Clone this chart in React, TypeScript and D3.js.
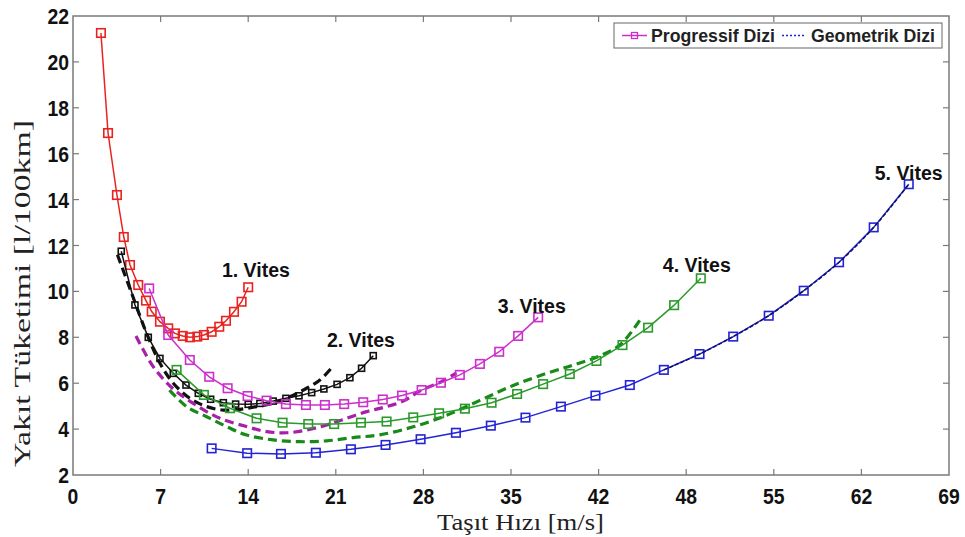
import React from "react";
import * as d3 from "d3";

// ---- data ----
const xTickLabels = ["0", "7", "14", "21", "28", "35", "42", "48", "55", "62", "69"];
const yTicks = [2, 4, 6, 8, 10, 12, 14, 16, 18, 20, 22];

const g1x = [2.2, 2.76, 3.46, 4.0, 4.49, 5.14, 5.75, 6.2, 6.85, 7.5, 8.03, 8.64, 9.21, 9.79, 10.31, 10.92, 11.52, 12.05, 12.68, 13.28, 13.8];
const g1y = [21.26, 16.9, 14.2, 12.37, 11.15, 10.28, 9.6, 9.12, 8.68, 8.39, 8.17, 8.06, 8.0, 8.03, 8.1, 8.24, 8.46, 8.72, 9.11, 9.55, 10.18];

const g2x = [3.8, 4.88, 5.93, 6.85, 7.9, 8.9, 9.87, 10.84, 11.84, 12.81, 13.8, 14.72, 15.77, 16.77, 17.8, 18.8, 19.76, 20.8, 21.81, 22.73, 23.65];
const g2y = [11.75, 9.41, 8.0, 7.08, 6.43, 5.92, 5.56, 5.3, 5.15, 5.09, 5.08, 5.12, 5.22, 5.34, 5.45, 5.59, 5.75, 5.95, 6.24, 6.65, 7.2];

const g3x = [6.0, 7.5, 9.2, 10.73, 12.18, 13.75, 15.25, 16.77, 18.35, 19.84, 21.36, 22.86, 24.4, 25.92, 27.46, 28.98, 30.47, 32.05, 33.57, 35.06, 36.64];
const g3y = [10.13, 8.1, 7.01, 6.28, 5.78, 5.44, 5.24, 5.09, 5.05, 5.05, 5.09, 5.17, 5.29, 5.46, 5.7, 6.02, 6.36, 6.84, 7.37, 8.06, 8.87];

const g4x = [8.16, 10.31, 12.36, 14.46, 16.51, 18.53, 20.57, 22.68, 24.7, 26.8, 28.84, 30.87, 32.97, 34.98, 37.03, 39.13, 41.23, 43.28, 45.3, 47.35, 49.45];
const g4y = [6.58, 5.49, 4.91, 4.47, 4.28, 4.22, 4.22, 4.28, 4.33, 4.51, 4.69, 4.89, 5.15, 5.53, 5.96, 6.4, 6.97, 7.66, 8.42, 9.4, 10.57];

const g5x = [10.92, 13.72, 16.38, 19.13, 21.89, 24.62, 27.38, 30.16, 32.91, 35.64, 38.43, 41.15, 43.86, 46.54, 49.35, 52.0, 54.8, 57.56, 60.34, 63.07, 65.83];
const g5y = [3.16, 2.95, 2.92, 2.97, 3.12, 3.31, 3.56, 3.84, 4.15, 4.5, 4.98, 5.46, 5.92, 6.58, 7.27, 8.03, 8.94, 10.03, 11.27, 12.79, 14.67];

// geometric series (dashed)
const geo2x = [3.5, 4.62, 5.8, 6.85, 7.9, 9.21, 10.53, 11.84, 13.15, 14.46, 15.77, 17.09, 18.4, 19.45, 20.45];
const geo2y = [11.6, 9.92, 8.17, 6.87, 6.0, 5.34, 4.98, 4.83, 4.86, 4.98, 5.12, 5.41, 5.78, 6.14, 6.72];

const geo3x = [4.96, 6.32, 7.8, 9.47, 11.57, 13.67, 15.25, 16.83, 18.4, 19.98, 21.55, 23.13, 24.5, 26.0, 27.46, 29.03, 30.2];
const geo3y = [8.06, 6.72, 5.8, 5.12, 4.47, 4.11, 3.89, 3.84, 3.96, 4.18, 4.47, 4.76, 4.95, 5.22, 5.7, 6.07, 6.45];

const geo4x = [7.6, 8.95, 10.53, 12.1, 13.67, 15.77, 17.87, 19.98, 22.07, 24.17, 26.8, 29.42, 32.05, 34.67, 37.3, 39.4, 41.23, 43.07, 44.65];
const geo4y = [5.7, 4.98, 4.54, 4.11, 3.74, 3.53, 3.45, 3.49, 3.63, 3.75, 4.1, 4.6, 5.25, 5.9, 6.43, 6.79, 7.13, 7.66, 8.75];

const geo5x = [46.54, 49.35, 52.0, 54.8, 57.56, 60.34, 63.07, 65.83];
const geo5y = [6.58, 7.27, 8.03, 8.94, 10.03, 11.27, 12.79, 14.67];

const gearLabels = ["1. Vites", "2. Vites", "3. Vites", "4. Vites", "5. Vites"];
const gearLabelX = [11.73, 20.0, 33.46, 46.46, 63.15];
const gearLabelY = [10.63, 7.58, 9.06, 10.85, 14.85];

const legendLabels = ["Progressif Dizi", "Geometrik Dizi"];

export default function App() {
  const W = 965, H = 537;
  const L = 73, R = 949, T = 16, B = 475;
  const x = d3.scaleLinear().domain([0, 69]).range([L, R]);
  const y = d3.scaleLinear().domain([2, 22]).range([B, T]);
  const mk = (xs: number[], ys: number[], curve: any) =>
    d3.line<[number, number]>().x((d) => x(d[0])).y((d) => y(d[1])).curve(curve)(xs.map((v, i) => [v, ys[i]]) as [number, number][]) || "";

  const prog = [
    { xs: g1x, ys: g1y, c: "#e8231f", m: 8.5 },
    { xs: g2x, ys: g2y, c: "#111111", m: 6 },
    { xs: g3x, ys: g3y, c: "#cc2fcc", m: 8.5 },
    { xs: g4x, ys: g4y, c: "#2a9a2a", m: 8.5 },
    { xs: g5x, ys: g5y, c: "#2323d6", m: 8.5 },
  ];
  const geo = [
    { xs: geo2x, ys: geo2y, c: "#111111", w: 3.2 },
    { xs: geo3x, ys: geo3y, c: "#a81fa8", w: 3.2 },
    { xs: geo4x, ys: geo4y, c: "#178a17", w: 3.2 },
  ];
  const xTickPos = xTickLabels.map((_, i) => i * 6.9);
  const tickFont = "'Liberation Sans', Arial, sans-serif";
  const serif = "'Liberation Serif', 'Times New Roman', serif";

  return (
    <svg width={W} height={H} style={{ position: "absolute", left: 0, top: 0, background: "#fff" }}>
      {/* frame */}
      <rect x={L} y={T} width={R - L} height={B - T} fill="#fff" stroke="#7a7a7a" strokeWidth={1.5} />
      {xTickPos.map((v, i) => (
        <g key={"xt" + i}>
          {i > 0 && i < xTickPos.length - 1 && (
            <>
              <line x1={x(v)} x2={x(v)} y1={B} y2={B - 6} stroke="#7a7a7a" strokeWidth={1.2} />
              <line x1={x(v)} x2={x(v)} y1={T} y2={T + 6} stroke="#7a7a7a" strokeWidth={1.2} />
            </>
          )}
          <text transform={`translate(${x(v)},504) scale(0.88,1)`} textAnchor="middle" fontFamily={tickFont} fontWeight="bold" fontSize={22} fill="#111">
            {xTickLabels[i]}
          </text>
        </g>
      ))}
      {yTicks.map((v, i) => (
        <g key={"yt" + i}>
          {i > 0 && i < yTicks.length - 1 && (
            <>
              <line x1={L} x2={L + 6} y1={y(v)} y2={y(v)} stroke="#7a7a7a" strokeWidth={1.2} />
              <line x1={R} x2={R - 6} y1={y(v)} y2={y(v)} stroke="#7a7a7a" strokeWidth={1.2} />
            </>
          )}
          <text transform={`translate(${L - 4},${y(v) + 8}) scale(0.88,1)`} textAnchor="end" fontFamily={tickFont} fontWeight="bold" fontSize={22} fill="#111">
            {v}
          </text>
        </g>
      ))}

      {/* axis titles */}
      <text x={520.5} y={530} textAnchor="middle" fontFamily={serif} fontSize={23} textLength={167} lengthAdjust="spacingAndGlyphs" fill="#222">
        Taşıt Hızı [m/s]
      </text>
      <text transform="translate(30,293.5) rotate(-90)" textAnchor="middle" fontFamily={serif} fontSize={24} textLength={347} lengthAdjust="spacingAndGlyphs" fill="#222">
        Yakıt Tüketimi [l/100km]
      </text>

      {/* geometric dashed curves */}
      {geo.map((s, i) => (
        <path key={"g" + i} d={mk(s.xs, s.ys, d3.curveCatmullRom)} fill="none" stroke={s.c} strokeWidth={s.w} strokeDasharray="9,5" />
      ))}

      {/* progressive series */}
      {prog.map((s, i) => (
        <g key={"p" + i}>
          <path d={mk(s.xs, s.ys, d3.curveLinear)} fill="none" stroke={s.c} strokeWidth={1.5} />
          {s.xs.map((v, j) => (
            <rect key={j} x={x(v) - s.m / 2} y={y(s.ys[j]) - s.m / 2} width={s.m} height={s.m} fill="none" stroke={s.c} strokeWidth={1.6} />
          ))}
        </g>
      ))}
      <path d={mk(geo5x, geo5y, d3.curveCatmullRom)} fill="none" stroke="#101060" strokeWidth={1.5} strokeDasharray="4,2" />

      {/* gear labels */}
      {gearLabels.map((t, i) => (
        <text key={t} x={x(gearLabelX[i])} y={y(gearLabelY[i])} textAnchor="start" fontFamily={tickFont} fontWeight="bold" fontSize={19.5} textLength={68} lengthAdjust="spacingAndGlyphs" fill="#111">
          {t}
        </text>
      ))}

      {/* legend */}
      <g>
        <rect x={614} y={23} width={328} height={25} fill="#fff" stroke="#666" strokeWidth={1} />
        <line x1={622} x2={647} y1={35.5} y2={35.5} stroke="#cc2fcc" strokeWidth={1.5} />
        <rect x={631.5} y={32.5} width={6} height={6} fill="none" stroke="#cc2fcc" strokeWidth={1.3} />
        <text x={651} y={42} fontFamily={tickFont} fontWeight="bold" fontSize={17.5} textLength={124} lengthAdjust="spacingAndGlyphs" fill="#222">{legendLabels[0]}</text>
        <line x1={782} x2={806} y1={35.5} y2={35.5} stroke="#2323d6" strokeWidth={1.3} strokeDasharray="2,2" />
        <text x={811} y={42} fontFamily={tickFont} fontWeight="bold" fontSize={17.5} textLength={124} lengthAdjust="spacingAndGlyphs" fill="#222">{legendLabels[1]}</text>
      </g>
    </svg>
  );
}
